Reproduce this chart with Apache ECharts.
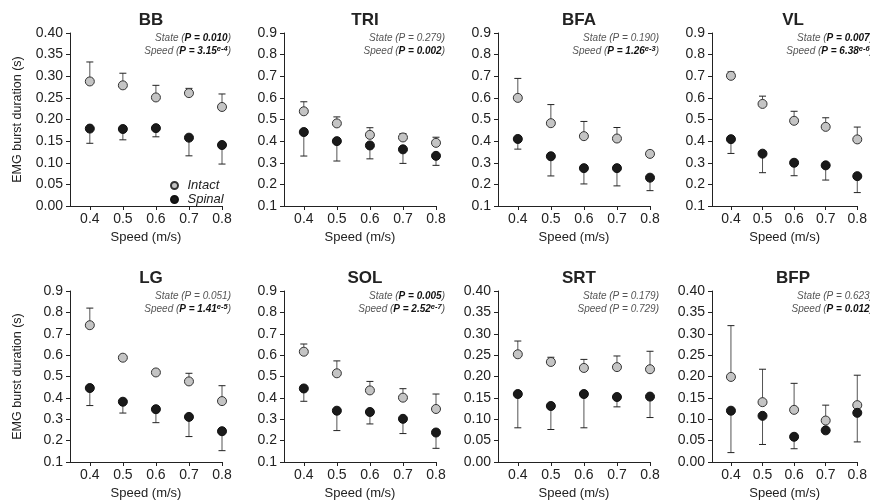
<!DOCTYPE html>
<html>
<head>
<meta charset="utf-8">
<title>EMG burst duration</title>
<script src="https://cdn.jsdelivr.net/npm/echarts@6/dist/echarts.min.js"></script>
<style>
  html, body { margin: 0; padding: 0; background: #fff; }
  #chart { width: 870px; height: 501px; }
</style>
</head>
<body>
<div id="chart"></div>
<script>
// 数据
var speeds = [0.4, 0.5, 0.6, 0.7, 0.8]
var muscles = ['BB', 'TRI', 'BFA', 'VL', 'LG', 'SOL', 'SRT', 'BFP']
var intactMean = [
  [0.288, 0.279, 0.251, 0.261, 0.229],
  [0.538, 0.482, 0.429, 0.417, 0.392],
  [0.600, 0.483, 0.423, 0.412, 0.341],
  [0.702, 0.572, 0.494, 0.466, 0.408],
  [0.740, 0.588, 0.519, 0.477, 0.385],
  [0.616, 0.515, 0.435, 0.401, 0.348],
  [0.252, 0.234, 0.220, 0.222, 0.217],
  [0.199, 0.140, 0.122, 0.097, 0.133]
]
var intactErr = [
  [0.045, 0.028, 0.028, 0.011, 0.030],
  [0.044, 0.030, 0.033, 0.018, 0.026],
  [0.090, 0.086, 0.068, 0.051, 0.012],
  [0.018, 0.036, 0.044, 0.042, 0.057],
  [0.080, 0.005, 0.005, 0.038, 0.072],
  [0.036, 0.058, 0.042, 0.042, 0.070],
  [0.031, 0.011, 0.020, 0.026, 0.042],
  [0.120, 0.077, 0.062, 0.036, 0.070]
]
var spinalMean = [
  [0.179, 0.178, 0.180, 0.158, 0.141],
  [0.442, 0.400, 0.380, 0.362, 0.332],
  [0.410, 0.330, 0.275, 0.275, 0.231],
  [0.409, 0.342, 0.300, 0.288, 0.238],
  [0.446, 0.382, 0.347, 0.311, 0.244],
  [0.444, 0.340, 0.334, 0.302, 0.238],
  [0.159, 0.131, 0.159, 0.152, 0.153],
  [0.120, 0.108, 0.059, 0.074, 0.115]
]
var spinalErr = [
  [0.034, 0.025, 0.020, 0.042, 0.044],
  [0.111, 0.092, 0.062, 0.065, 0.044],
  [0.047, 0.091, 0.073, 0.082, 0.060],
  [0.066, 0.088, 0.060, 0.068, 0.076],
  [0.082, 0.053, 0.063, 0.092, 0.091],
  [0.060, 0.093, 0.056, 0.069, 0.074],
  [0.079, 0.055, 0.079, 0.023, 0.049],
  [0.098, 0.067, 0.028, 0, 0.068]
]
var yMin = [0, 0.1, 0.1, 0.1, 0.1, 0.1, 0, 0]
var yMax = [0.4, 0.9, 0.9, 0.9, 0.9, 0.9, 0.4, 0.4]
var yStep = [0.05, 0.1, 0.1, 0.1, 0.1, 0.1, 0.05, 0.05]
var statePs = ['0.010', '0.279', '0.190', '0.007', '0.051', '0.005', '0.179', '0.623']
var stateSig = [1, 0, 0, 1, 0, 1, 0, 0]
var speedPs = ['3.15e-4', '0.002', '1.26e-3', '6.38e-6', '1.41e-5', '2.52e-7', '0.729', '0.012']
var speedSig = [1, 1, 1, 1, 1, 1, 0, 1]

var FONT = 'Liberation Sans, Arial, Helvetica, sans-serif'
var colLeft = [70, 284, 498, 712]
var rowTop = [33, 291]
var plotW = 152
var plotH = 173

// p值文字
function pText (label, p, sig) {
  var parts = p.split('e')
  var st = sig ? 'b' : 'n'
  var s = '{n|' + label + ' (}{' + st + '|P = ' + parts[0] + '}'
  if (parts.length > 1) s += '{' + st + 's|e' + parts[1] + '}'
  return s + '{n|)}'
}

function errItem (params, api) {
  var x = api.value(0)
  var y = api.value(1)
  var e = api.value(2)
  var d = api.value(3)
  if (!e) return
  var p0 = api.coord([x, y])
  var p1 = api.coord([x, y + d * e])
  return {
    type: 'group',
    children: [
      {type: 'line', shape: {x1: p0[0], y1: p0[1], x2: p1[0], y2: p1[1]}, style: {stroke: '#555', lineWidth: 1}},
      {type: 'line', shape: {x1: p1[0] - 3.5, y1: p1[1], x2: p1[0] + 3.5, y2: p1[1]}, style: {stroke: '#222', lineWidth: 1}}
    ]
  }
}

var grids = []
var xAxes = []
var yAxes = []
var titles = []
var graphics = []
var series = []

muscles.forEach(function (m, i) {
  var col = i % 4
  var row = Math.floor(i / 4)
  var left = colLeft[col]
  var top = rowTop[row]
  var dec = yStep[i] < 0.1 ? 2 : 1
  grids.push({left: left, top: top, width: plotW, height: plotH})
  xAxes.push({
    type: 'value',
    gridIndex: i,
    min: 0.34,
    max: 0.8,
    name: 'Speed (m/s)',
    nameLocation: 'middle',
    nameGap: 25,
    nameTextStyle: {fontFamily: FONT, fontSize: 13, color: '#222'},
    axisLine: {show: true, lineStyle: {color: '#222', width: 1}},
    axisTick: {show: true, length: 4, lineStyle: {color: '#222'}, customValues: speeds},
    axisLabel: {
      fontFamily: FONT, fontSize: 14, color: '#222', margin: 6, customValues: speeds,
      formatter: function (v) { return v.toFixed(1) }
    },
    splitLine: {show: false}
  })
  yAxes.push({
    type: 'value',
    gridIndex: i,
    min: yMin[i],
    max: yMax[i],
    interval: yStep[i],
    name: col === 0 ? 'EMG burst duration (s)' : '',
    nameLocation: 'middle',
    nameGap: 46,
    nameTextStyle: {fontFamily: FONT, fontSize: 12.5, color: '#222'},
    axisLine: {show: true, lineStyle: {color: '#222', width: 1}},
    axisTick: {show: true, length: 4, lineStyle: {color: '#222'}},
    axisLabel: {
      fontFamily: FONT, fontSize: 14, color: '#222', margin: 7,
      formatter: function (v) { return v.toFixed(dec) }
    },
    splitLine: {show: false}
  })
  titles.push({
    text: m,
    left: left + plotW / 2,
    top: top - 26,
    textAlign: 'center',
    textStyle: {fontFamily: FONT, fontSize: 17, fontWeight: 'bold', color: '#222'}
  })
  graphics.push({
    type: 'text',
    x: left + plotW + 9,
    y: top - 1,
    style: {
      text: pText('State', statePs[i], stateSig[i]) + '\n' + pText('Speed', speedPs[i], speedSig[i]),
      align: 'right',
      verticalAlign: 'top',
      rich: {
        n: {fontFamily: FONT, fontSize: 10, fontStyle: 'italic', fill: '#555', lineHeight: 12.5},
        ns: {fontFamily: FONT, fontSize: 7.5, fontStyle: 'italic', fill: '#555', verticalAlign: 'top', lineHeight: 12.5},
        b: {fontFamily: FONT, fontSize: 10, fontStyle: 'italic', fontWeight: 'bold', fill: '#111', lineHeight: 12.5},
        bs: {fontFamily: FONT, fontSize: 7.5, fontStyle: 'italic', fontWeight: 'bold', fill: '#111', verticalAlign: 'top', lineHeight: 12.5}
      }
    }
  })
  var intactErrData = speeds.map(function (s, k) { return [s, intactMean[i][k], intactErr[i][k], 1] })
  var spinalErrData = speeds.map(function (s, k) { return [s, spinalMean[i][k], spinalErr[i][k], -1] })
  series.push({
    type: 'custom',
    xAxisIndex: i,
    yAxisIndex: i,
    renderItem: errItem,
    encode: {x: 0, y: 1},
    data: intactErrData,
    silent: true,
    z: 1
  })
  series.push({
    type: 'custom',
    xAxisIndex: i,
    yAxisIndex: i,
    renderItem: errItem,
    encode: {x: 0, y: 1},
    data: spinalErrData,
    silent: true,
    z: 1
  })
  series.push({
    name: 'Intact',
    type: 'scatter',
    xAxisIndex: i,
    yAxisIndex: i,
    symbolSize: 9,
    data: speeds.map(function (s, k) { return [s, intactMean[i][k]] }),
    itemStyle: {color: '#c4c4c4', borderColor: '#333', borderWidth: 1, opacity: 1},
    z: 3
  })
  series.push({
    name: 'Spinal',
    type: 'scatter',
    xAxisIndex: i,
    yAxisIndex: i,
    symbolSize: 9,
    data: speeds.map(function (s, k) { return [s, spinalMean[i][k]] }),
    itemStyle: {color: '#1a1a1a', borderColor: '#111', borderWidth: 1, opacity: 1},
    z: 3
  })
})

var option = {
  animation: false,
  backgroundColor: '#fff',
  title: titles,
  grid: grids,
  xAxis: xAxes,
  yAxis: yAxes,
  graphic: graphics,
  legend: {
    data: ['Intact', 'Spinal'],
    orient: 'vertical',
    left: 170,
    top: 179,
    icon: 'circle',
    itemWidth: 16,
    itemHeight: 7,
    itemGap: 1,
    padding: 0,
    selectedMode: false,
    textStyle: {fontFamily: FONT, fontSize: 13, fontStyle: 'italic', color: '#222', lineHeight: 11}
  },
  series: series
}

echarts.init(document.getElementById('chart')).setOption(option)
</script>
</body>
</html>
